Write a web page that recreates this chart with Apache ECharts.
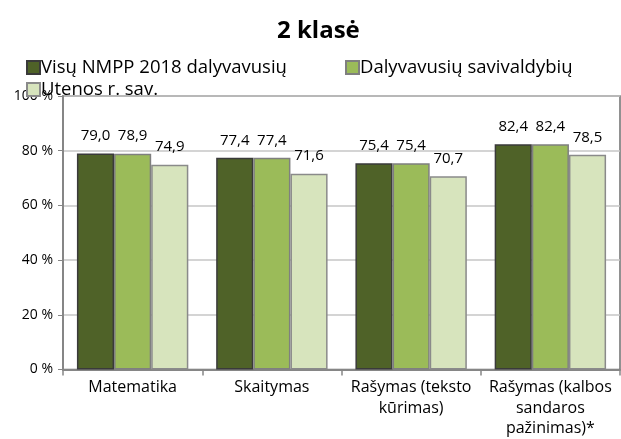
<!DOCTYPE html>
<html>
<head>
<meta charset="utf-8">
<script src="https://cdn.jsdelivr.net/npm/echarts@6/dist/echarts.min.js"></script>
<style>
  html, body { margin: 0; padding: 0; background: #fff; }
  #chart { width: 621px; height: 439px; }
</style>
</head>
<body>
<div id="chart"></div>
<script>
// Subjects (x-axis categories)
const categories = ['Matematika', 'Skaitymas', 'Rašymas (teksto\nkūrimas)', 'Rašymas (kalbos\nsandaros\npažinimas)*'];

// Series names
const seriesNames = ['Visų NMPP 2018 dalyvavusių', 'Dalyvavusių savivaldybių', 'Utenos r. sav.'];

// Average scores, %
const allParticipants = [79.0, 77.4, 75.4, 82.4];
const participatingMunicipalities = [78.9, 77.4, 75.4, 82.4];
const utenaDistrict = [74.9, 71.6, 70.7, 78.5];

// Y-axis ticks
const yTicks = [0, 20, 40, 60, 80, 100];

const FONT = '"Open Sans", "DejaVu Sans", sans-serif';
const colors = ['#4f6228', '#9bbb59', '#d7e4bd'];
const borders = ['#3a3a3a', '#7f7f7f', '#8a8a8a'];

const fmt = v => v.toFixed(1).replace('.', ',');

function barSeries(name, data, i) {
  return {
    name: name,
    type: 'bar',
    data: data,
    barGap: '0%',
    barCategoryGap: '20%',
    itemStyle: { color: colors[i], borderColor: borders[i], borderWidth: 1.5 },
    label: {
      show: true,
      position: 'top',
      distance: 10,
      fontFamily: FONT,
      fontSize: 15,
      color: '#000',
      formatter: p => fmt(p.value)
    }
  };
}

const legendBase = {
  itemWidth: 13,
  itemHeight: 13,
  itemGap: 4,
  icon: 'rect',
  textStyle: { fontFamily: FONT, fontSize: 18.5, color: '#000', padding: [0, 0, 0, -4] }
};

const chart = echarts.init(document.getElementById('chart'), null, { renderer: 'canvas' });
chart.setOption({
  animation: false,
  title: {
    text: '2 klasė',
    left: 272,
    top: 14,
    textStyle: { fontFamily: FONT, fontSize: 24, fontWeight: 'bold', color: '#000' }
  },
  legend: [
    Object.assign({ data: [seriesNames[0]], left: 21, top: 53 }, legendBase),
    Object.assign({ data: [seriesNames[1]], left: 340, top: 53 }, legendBase),
    Object.assign({ data: [seriesNames[2]], left: 21, top: 75 }, legendBase)
  ],
  grid: {
    left: 63, right: 1, top: 96, bottom: 69,
    show: true,
    borderColor: '#6e6e6e',
    borderWidth: 1.5,
    containLabel: false
  },
  xAxis: {
    type: 'category',
    data: categories,
    axisLine: { lineStyle: { color: '#868686', width: 2 } },
    axisTick: { show: true, length: 6, lineStyle: { color: '#868686', width: 1.5 } },
    axisLabel: {
      fontFamily: FONT, fontSize: 16, color: '#000', margin: 8, lineHeight: 20.5, interval: 0
    }
  },
  yAxis: {
    type: 'value',
    min: yTicks[0],
    max: yTicks[yTicks.length - 1],
    interval: 20,
    axisLine: { show: true, lineStyle: { color: '#868686', width: 2 } },
    axisTick: { show: true, length: 5, lineStyle: { color: '#868686' } },
    splitLine: { lineStyle: { color: '#c6c6c6', width: 1.5 } },
    axisLabel: {
      fontFamily: FONT, fontSize: 14, color: '#000', margin: 10,
      formatter: v => v + ' %'
    }
  },
  series: [
    barSeries(seriesNames[0], allParticipants, 0),
    barSeries(seriesNames[1], participatingMunicipalities, 1),
    barSeries(seriesNames[2], utenaDistrict, 2)
  ]
});
</script>
</body>
</html>
